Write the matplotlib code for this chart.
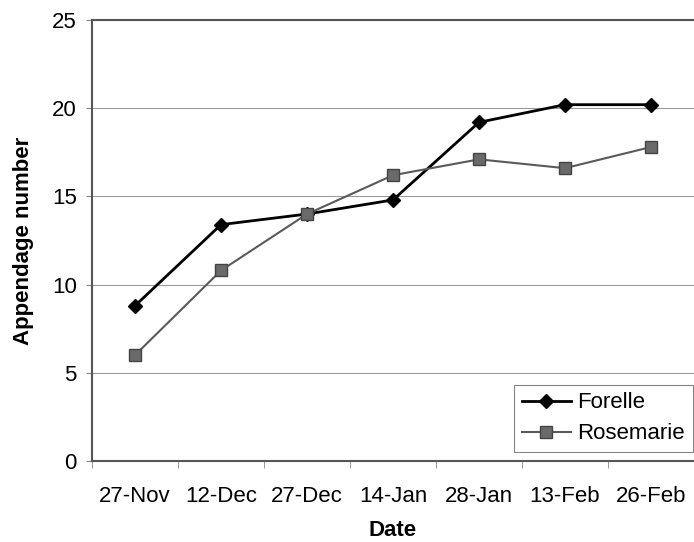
import numpy as np
import matplotlib.pyplot as plt

plt.rcParams['font.family'] = ['Liberation Sans', 'DejaVu Sans']

dates = ['27-Nov', '12-Dec', '27-Dec', '14-Jan', '28-Jan', '13-Feb', '26-Feb']
forelle = [8.8, 13.4, 14.0, 14.8, 19.2, 20.2, 20.2]
rosemarie = [6.0, 10.8, 14.0, 16.2, 17.1, 16.6, 17.8]

fig = plt.figure(figsize=(6.94, 5.42), dpi=100)
ax = fig.add_axes([92 / 694, 1 - 461 / 542, 1 - 92 / 694, (461 - 20) / 542])

x = np.arange(len(dates))
ax.plot(x, forelle, color='black', lw=2, marker='D', ms=7.5,
        mfc='black', mec='black', label='Forelle', zorder=3)
ax.plot(x, rosemarie, color='#5a5a5a', lw=1.5, marker='s', ms=9,
        mfc='#6a6a6a', mec='#444444', label='Rosemarie', zorder=3)

ax.set_xlim(-0.5, len(dates) - 0.5)
ax.set_ylim(0, 25)
ax.set_yticks([0, 5, 10, 15, 20, 25])
ax.set_xticks(x)
ax.set_xticklabels(dates)
ax.set_xticks(np.arange(-0.5, len(dates)), minor=True)
ax.tick_params(axis='x', which='major', length=0, pad=18, labelsize=16)
ax.tick_params(axis='x', which='minor', length=5, color='#888888', direction='out')
ax.tick_params(axis='y', length=4, color='#888888', labelsize=16, pad=7)

ax.grid(axis='y', color='#9a9a9a', lw=0.8)
ax.set_axisbelow(True)
for s in ['left', 'bottom', 'top']:
    ax.spines[s].set_color('#555555')
    ax.spines[s].set_linewidth(1.5)
ax.spines['right'].set_visible(False)

ax.set_xlabel('Date', fontsize=16, fontweight='bold', labelpad=9)
ax.set_ylabel('Appendage number', fontsize=16, fontweight='bold', labelpad=13)

leg = ax.legend(loc='lower right', bbox_to_anchor=(0.998, 0.02), fontsize=16,
                frameon=True, fancybox=False, edgecolor='#666666',
                handlelength=2.2, handletextpad=0.3, borderpad=0.35,
                labelspacing=0.45, borderaxespad=0)
leg.get_frame().set_linewidth(0.8)

fig.savefig('out.png', dpi=100)
